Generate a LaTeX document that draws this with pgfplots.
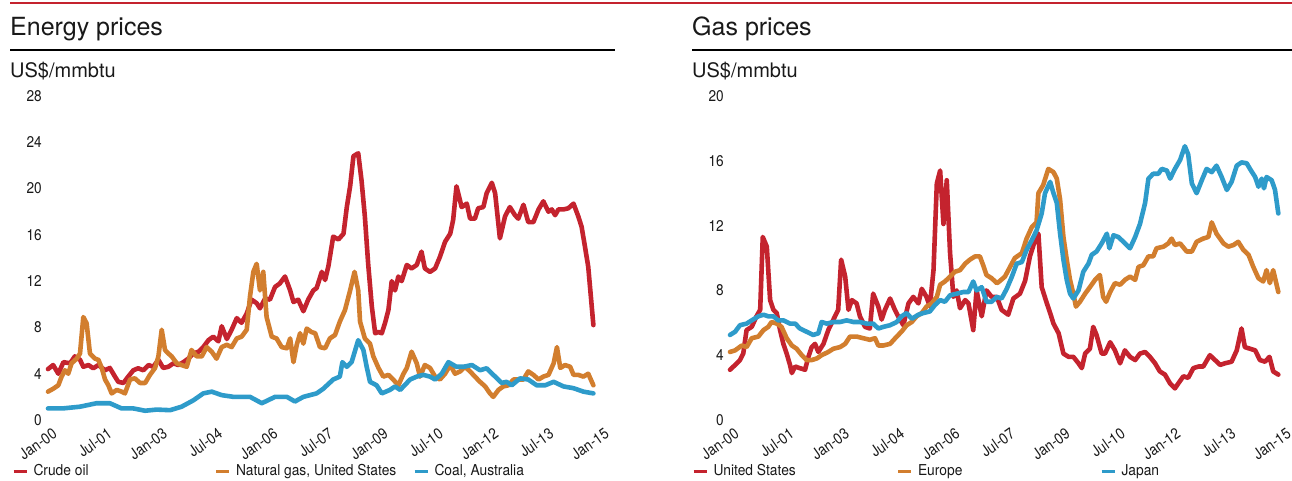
\documentclass[border=0pt]{standalone}
\usepackage{fontspec}
\setmainfont{TeX Gyre Heros}
\newfontfamily\narrowfont{TeX Gyre Heros}[FakeStretch=0.88]
\newfontfamily\legendfont{TeX Gyre Heros}[FakeStretch=0.92]
\usepackage{pgfplots}
\pgfplotsset{compat=1.18}

\definecolor{hred}{RGB}{196,35,46}
\definecolor{horange}{RGB}{210,126,46}
\definecolor{hblue}{RGB}{46,155,202}
\definecolor{inktext}{RGB}{25,25,25}

\newcommand\tickfont{\narrowfont\fontsize{15.5}{17}\selectfont}

\pgfplotsset{
  panel/.style={
    scale only axis, width=552pt, height=324pt,
    xmin=0, xmax=15, ymin=0,
    clip=false,
    axis line style={draw=none},
    major tick length=0pt,
    tick style={draw=none},
    xtick={0,1.5,3,4.5,6,7.5,9,10.5,12,13.5,15},
    xticklabels={Jan-00,Jul-01,Jan-03,Jul-04,Jan-06,Jul-07,Jan-09,Jul-10,Jan-12,Jul-13,Jan-15},
    /pgf/number format/assume math mode=true,
    tick label style={font=\tickfont, text=inktext},
    yticklabel style={anchor=east, inner sep=0pt, xshift=-6pt},
    xticklabel style={inner sep=0pt, xshift=7pt, yshift=-12pt, rotate=35, anchor=east},
    every axis plot/.append style={line width=4.6pt, line join=round, line cap=round},
    legend columns=3,
    legend style={draw=none, fill=none, inner sep=0pt, outer sep=0pt,
      font=\legendfont\fontsize{15}{17}\selectfont, text=inktext,
      nodes={inner sep=0pt, anchor=west}, anchor=west},
    legend image code/.code={
      \draw[line width=3pt, line cap=butt] (0pt,0pt) -- (13pt,0pt);
      \path[draw=none, fill=none] (0pt,-4pt) rectangle (20pt,4pt);
    },
  }
}

\begin{document}
\begin{tikzpicture}
\path[use as bounding box] (0,0) rectangle (1292pt,-481pt);

% header rules and titles
\draw[hred, line width=2.5pt] (10pt,-3pt) -- (1292pt,-3pt);
\node[anchor=base west, inner sep=0pt, text=inktext, font=\fontsize{25}{29}\selectfont] at (10pt,-36pt) {Energy prices};
\node[anchor=base west, inner sep=0pt, text=inktext, font=\fontsize{25}{29}\selectfont] at (692pt,-36pt) {Gas prices};
\draw[black, line width=1.6pt] (10pt,-50pt) -- (615pt,-50pt);
\draw[black, line width=1.6pt] (692pt,-50pt) -- (1292pt,-50pt);
\node[anchor=base west, inner sep=0pt, text=inktext, font=\fontsize{20}{24}\selectfont] at (10pt,-78pt) {US\$/mmbtu};
\node[anchor=base west, inner sep=0pt, text=inktext, font=\fontsize{20}{24}\selectfont] at (692pt,-78pt) {US\$/mmbtu};

% ---------------- Energy prices ----------------
\begin{axis}[panel, at={(48pt,-420pt)}, anchor=south west,
  ymax=28, ytick={0,4,8,12,16,20,24,28},
  legend style={at={(axis description cs:-0.0652,-0.1574)}}]
\addplot[hred] coordinates {
(0.00,4.4) (0.14,4.75) (0.28,4.0) (0.42,5.0) (0.60,4.9) (0.73,5.5) (0.87,5.2) (0.96,4.6)
(1.10,4.75) (1.23,4.47) (1.37,4.75) (1.55,4.3) (1.68,4.5) (1.82,3.75) (1.91,3.3) (2.05,3.2)
(2.18,3.75) (2.32,4.3) (2.45,4.47) (2.59,4.3) (2.73,4.75) (2.86,4.6) (3.00,5.2) (3.13,4.5)
(3.27,4.6) (3.41,4.9) (3.54,4.75) (3.68,5.0) (3.81,5.3) (3.95,5.75) (4.09,5.9) (4.22,6.3)
(4.36,6.9) (4.49,7.2) (4.63,6.8) (4.72,8.1) (4.86,7.0) (4.99,7.8) (5.13,8.8) (5.26,8.4)
(5.40,9.2) (5.53,10.4) (5.67,10.1) (5.76,9.65) (5.90,10.5) (6.03,10.4) (6.17,11.5) (6.30,11.8)
(6.44,12.4) (6.58,11.2) (6.67,10.2) (6.80,10.4) (6.94,9.4) (7.07,10.4) (7.21,11.2) (7.30,11.4)
(7.44,12.8) (7.53,12.1) (7.62,13.3) (7.75,15.85) (7.89,15.6) (8.03,16.1) (8.12,18.4) (8.21,20.2)
(8.30,22.8) (8.43,23.05) (8.52,20.7) (8.61,17.6) (8.70,13.5) (8.80,9.8) (8.89,7.5) (8.98,7.6)
(9.07,7.5) (9.16,8.4) (9.25,9.5) (9.34,12.0) (9.43,11.2) (9.52,12.4) (9.61,12.0) (9.75,13.4)
(9.88,13.1) (10.02,13.4) (10.15,14.55) (10.24,13.1) (10.38,12.8) (10.52,13.1) (10.65,14.1)
(10.79,15.4) (10.93,16.1) (11.01,17.3) (11.10,20.2) (11.24,18.4) (11.38,18.7) (11.47,17.4)
(11.60,17.4) (11.69,18.3) (11.83,18.4) (11.92,19.6) (12.06,20.5) (12.15,19.6) (12.28,15.7)
(12.42,17.6) (12.55,18.4) (12.69,17.7) (12.78,17.4) (12.92,18.6) (13.05,17.1) (13.19,17.1)
(13.33,18.2) (13.46,18.9) (13.60,18.0) (13.69,18.2) (13.78,17.7) (13.87,18.2) (14.01,18.2)
(14.14,18.3) (14.28,18.7) (14.41,17.6) (14.50,16.7) (14.59,15.0) (14.68,13.25) (14.82,8.2)
};
\addlegendentry{\makebox[181pt][l]{Crude oil}}
\addplot[horange] coordinates {
(0.00,2.45) (0.14,2.7) (0.28,3.0) (0.37,3.75) (0.46,4.3) (0.55,4.0) (0.64,4.9) (0.78,5.3)
(0.87,5.75) (0.96,8.9) (1.05,8.35) (1.14,5.75) (1.28,5.3) (1.37,5.2) (1.46,4.5) (1.55,3.5)
(1.64,3.0) (1.73,2.3) (1.87,2.6) (2.00,2.45) (2.09,2.3) (2.23,3.5) (2.36,3.6) (2.50,3.2)
(2.64,3.2) (2.77,3.9) (2.91,4.5) (3.00,5.5) (3.09,7.8) (3.18,6.05) (3.27,5.75) (3.36,5.5)
(3.50,4.9) (3.63,4.75) (3.77,4.6) (3.90,6.05) (4.04,5.5) (4.18,5.5) (4.31,6.3) (4.45,5.9)
(4.58,5.3) (4.72,6.3) (4.86,6.5) (4.99,6.3) (5.13,7.05) (5.26,7.2) (5.40,7.8) (5.49,10.7)
(5.58,12.8) (5.67,13.5) (5.76,11.2) (5.85,12.8) (5.94,8.9) (6.08,7.2) (6.21,7.05) (6.35,6.3)
(6.49,6.2) (6.58,7.05) (6.67,5.0) (6.76,6.5) (6.85,7.5) (6.94,6.6) (7.03,7.9) (7.16,7.6)
(7.26,7.5) (7.39,6.3) (7.53,6.2) (7.66,7.05) (7.80,7.35) (7.93,8.5) (8.07,9.5) (8.21,11.2)
(8.33,12.8) (8.43,11.2) (8.48,8.5) (8.61,7.05) (8.75,6.6) (8.84,5.5) (8.98,4.5) (9.11,3.75)
(9.25,3.9) (9.38,3.5) (9.52,3.0) (9.66,4.0) (9.75,4.5) (9.88,5.9) (10.02,4.9) (10.11,3.75)
(10.24,4.75) (10.38,4.5) (10.52,3.75) (10.65,3.5) (10.79,4.0) (10.93,4.75) (11.06,4.0)
(11.20,4.2) (11.33,4.6) (11.47,4.2) (11.60,3.75) (11.74,3.3) (11.88,2.9) (12.01,2.3)
(12.10,2.0) (12.24,2.6) (12.37,2.9) (12.51,3.0) (12.65,3.5) (12.78,3.5) (12.92,3.5)
(13.05,4.2) (13.19,3.9) (13.33,3.5) (13.46,3.75) (13.60,3.9) (13.74,4.9) (13.83,6.3)
(13.92,4.5) (14.05,4.75) (14.19,4.6) (14.28,3.9) (14.41,3.9) (14.55,3.75) (14.68,4.0) (14.82,3.0)
};
\addlegendentry{\makebox[177pt][l]{Natural gas, United States}}
\addplot[hblue] coordinates {
(0.00,1.0) (0.40,1.0) (0.87,1.15) (1.32,1.45) (1.68,1.45) (2.00,1.0) (2.32,1.0) (2.64,0.8)
(2.95,0.9) (3.32,0.85) (3.63,1.15) (3.95,1.7) (4.22,2.3) (4.45,2.45) (4.72,2.15) (5.04,2.0)
(5.49,2.0) (5.81,1.45) (6.17,2.0) (6.49,2.0) (6.71,1.6) (6.94,2.0) (7.30,2.3) (7.48,2.7)
(7.75,3.5) (7.93,3.75) (8.00,5.0) (8.12,4.6) (8.25,5.0) (8.43,6.9) (8.57,6.05) (8.66,4.6)
(8.75,3.3) (8.93,3.0) (9.07,2.3) (9.29,2.6) (9.43,2.9) (9.57,2.6) (9.84,3.5) (10.02,3.75)
(10.20,3.9) (10.38,3.75) (10.52,3.5) (10.70,4.0) (10.88,5.0) (11.10,4.6) (11.29,4.6)
(11.52,4.75) (11.74,4.3) (11.92,4.47) (12.15,3.75) (12.33,3.2) (12.46,3.3) (12.60,3.0)
(12.83,3.6) (13.05,3.5) (13.28,3.0) (13.51,3.0) (13.74,3.3) (14.01,2.9) (14.28,2.75)
(14.55,2.45) (14.82,2.3)
};
\addlegendentry{Coal, Australia}
\end{axis}

% ---------------- Gas prices ----------------
\begin{axis}[panel, at={(730pt,-420pt)}, anchor=south west,
  ymax=20, ytick={0,4,8,12,16,20},
  legend style={at={(axis description cs:-0.0688,-0.1574)}}]
\addplot[hred] coordinates {
(0.00,3.1) (0.14,3.4) (0.27,3.7) (0.36,4.1) (0.45,5.55) (0.59,5.75) (0.72,6.4) (0.82,6.8)
(0.89,11.3) (1.00,10.7) (1.09,7.4) (1.18,6.8) (1.27,6.6) (1.36,5.55) (1.45,4.7) (1.54,4.1)
(1.63,3.4) (1.68,2.9) (1.77,3.3) (1.90,3.2) (2.04,3.1) (2.13,3.9) (2.22,4.5) (2.31,4.7)
(2.40,4.2) (2.54,4.7) (2.67,5.55) (2.81,6.2) (2.94,6.8) (3.02,9.9) (3.13,8.85) (3.22,6.8)
(3.31,7.4) (3.44,7.2) (3.53,6.4) (3.67,5.75) (3.80,5.65) (3.89,7.8) (4.03,7.0) (4.12,6.2)
(4.21,6.8) (4.35,7.5) (4.48,6.8) (4.57,6.4) (4.71,5.85) (4.85,7.2) (4.98,7.6) (5.12,7.2)
(5.21,8.1) (5.34,7.6) (5.43,7.0) (5.53,9.25) (5.62,14.6) (5.71,15.4) (5.80,12.1) (5.89,14.8)
(5.98,10.3) (6.07,7.6) (6.16,8.0) (6.25,6.9) (6.39,7.4) (6.48,7.2) (6.61,5.55) (6.70,8.0)
(6.84,6.4) (6.97,8.0) (7.11,7.6) (7.25,7.6) (7.38,6.8) (7.56,6.5) (7.70,7.5) (7.88,7.8)
(8.02,8.6) (8.15,10.1) (8.29,11.1) (8.38,11.5) (8.47,8.2) (8.61,7.2) (8.70,6.6) (8.79,5.95)
(8.93,5.35) (9.06,4.1) (9.20,3.9) (9.33,3.9) (9.47,3.5) (9.56,3.2) (9.65,4.1) (9.78,4.4)
(9.87,5.75) (9.96,5.25) (10.10,4.1) (10.19,4.1) (10.33,4.8) (10.46,4.3) (10.60,3.5)
(10.73,4.3) (10.87,3.9) (11.01,3.7) (11.14,4.1) (11.28,4.2) (11.41,3.9) (11.55,3.5)
(11.68,3.0) (11.82,2.8) (11.96,2.25) (12.09,1.95) (12.18,2.25) (12.32,2.7) (12.45,2.6)
(12.59,3.2) (12.73,3.3) (12.86,3.3) (13.04,4.0) (13.18,3.7) (13.32,3.4) (13.45,3.5)
(13.63,3.6) (13.77,4.3) (13.90,5.65) (13.99,4.5) (14.13,4.4) (14.27,4.3) (14.40,3.7)
(14.54,3.6) (14.66,3.9) (14.76,3.0) (14.90,2.8)
};
\addlegendentry{\makebox[183pt][l]{United States}}
\addplot[horange] coordinates {
(0.00,4.2) (0.14,4.3) (0.32,4.6) (0.45,4.5) (0.59,5.05) (0.77,5.15) (0.91,5.55) (1.04,5.75)
(1.13,6.05) (1.27,5.95) (1.40,5.75) (1.54,5.05) (1.68,4.6) (1.81,4.4) (1.95,4.0) (2.08,3.7)
(2.22,3.7) (2.36,3.8) (2.49,4.0) (2.67,4.2) (2.81,4.4) (2.99,4.5) (3.13,4.7) (3.26,5.15)
(3.44,5.15) (3.62,5.05) (3.80,4.95) (3.94,5.05) (4.03,4.6) (4.17,4.6) (4.35,4.7) (4.53,5.15)
(4.66,5.45) (4.80,5.85) (4.94,6.05) (5.07,6.4) (5.21,6.6) (5.34,7.0) (5.48,7.2) (5.62,7.6)
(5.71,8.35) (5.84,8.55) (5.98,8.85) (6.11,9.15) (6.25,9.25) (6.39,9.65) (6.52,9.9) (6.66,10.1)
(6.79,10.1) (6.88,9.55) (6.97,8.95) (7.11,8.75) (7.25,8.45) (7.29,8.5) (7.47,8.85) (7.61,9.45)
(7.74,10.0) (7.93,10.3) (8.06,11.2) (8.20,11.9) (8.33,12.2) (8.38,14.0) (8.51,14.5) (8.65,15.5)
(8.79,15.3) (8.88,14.9) (8.97,13.6) (9.06,11.3) (9.15,9.9) (9.24,8.65) (9.33,7.8) (9.40,7.0)
(9.51,7.3) (9.65,7.8) (9.78,8.2) (9.92,8.65) (10.05,8.95) (10.14,7.6) (10.22,7.3) (10.33,7.9)
(10.46,8.45) (10.60,8.35) (10.73,8.65) (10.87,8.85) (11.01,8.65) (11.10,9.45) (11.23,9.55)
(11.37,10.1) (11.50,10.1) (11.59,10.6) (11.78,10.7) (11.91,10.9) (12.00,11.2) (12.09,10.8)
(12.23,10.9) (12.41,10.4) (12.55,10.4) (12.68,11.0) (12.86,11.2) (13.00,11.3) (13.09,12.2)
(13.22,11.5) (13.41,10.9) (13.54,10.7) (13.68,10.8) (13.81,11.0) (13.95,10.5) (14.09,10.2)
(14.22,9.45) (14.36,8.75) (14.49,8.55) (14.58,9.25) (14.67,8.45) (14.76,9.25) (14.90,7.9)
};
\addlegendentry{\makebox[182pt][l]{Europe}}
\addplot[hblue] coordinates {
(0.00,5.25) (0.14,5.45) (0.27,5.85) (0.45,5.95) (0.59,6.15) (0.77,6.4) (0.91,6.5) (1.04,6.4)
(1.18,6.4) (1.31,6.15) (1.45,6.15) (1.63,5.95) (1.77,5.95) (1.90,5.65) (2.08,5.45) (2.26,5.25)
(2.40,5.35) (2.49,6.05) (2.63,5.95) (2.81,6.05) (2.99,6.05) (3.17,6.15) (3.35,6.05) (3.53,6.05)
(3.71,5.95) (3.89,5.95) (4.03,5.65) (4.17,5.75) (4.35,5.85) (4.53,6.05) (4.66,6.4) (4.80,6.6)
(4.94,6.25) (5.12,6.5) (5.25,6.6) (5.43,6.7) (5.57,7.1) (5.71,7.4) (5.84,7.3) (5.98,7.7)
(6.16,7.8) (6.34,7.9) (6.48,7.9) (6.61,8.55) (6.70,8.0) (6.84,8.2) (6.97,7.3) (7.11,7.3)
(7.25,7.6) (7.38,7.5) (7.52,8.1) (7.66,8.85) (7.79,9.65) (7.93,9.75) (8.06,10.5) (8.20,11.1)
(8.33,11.7) (8.47,12.75) (8.56,14.0) (8.70,14.7) (8.79,14.0) (8.88,13.4) (8.97,11.5) (9.06,9.9)
(9.15,8.65) (9.24,7.8) (9.33,7.5) (9.47,8.0) (9.60,9.15) (9.74,9.65) (9.83,10.2) (9.96,10.4)
(10.10,10.9) (10.24,11.5) (10.31,10.6) (10.42,11.4) (10.55,11.3) (10.69,11.0) (10.87,10.6)
(11.01,11.3) (11.14,12.1) (11.28,13.4) (11.37,14.9) (11.50,15.2) (11.64,15.2) (11.73,15.5)
(11.87,15.4) (11.96,14.9) (12.09,15.5) (12.23,16.05) (12.36,16.9) (12.45,16.4) (12.55,14.6)
(12.68,14.0) (12.82,14.8) (12.95,15.5) (13.09,15.3) (13.22,15.7) (13.36,15.0) (13.50,14.2)
(13.63,14.7) (13.77,15.7) (13.90,15.9) (14.04,15.85) (14.13,15.5) (14.27,15.0) (14.36,14.4)
(14.45,14.9) (14.51,14.3) (14.58,15.0) (14.72,14.8) (14.81,14.2) (14.90,12.75)
};
\addlegendentry{Japan}
\end{axis}
\end{tikzpicture}
\end{document}
